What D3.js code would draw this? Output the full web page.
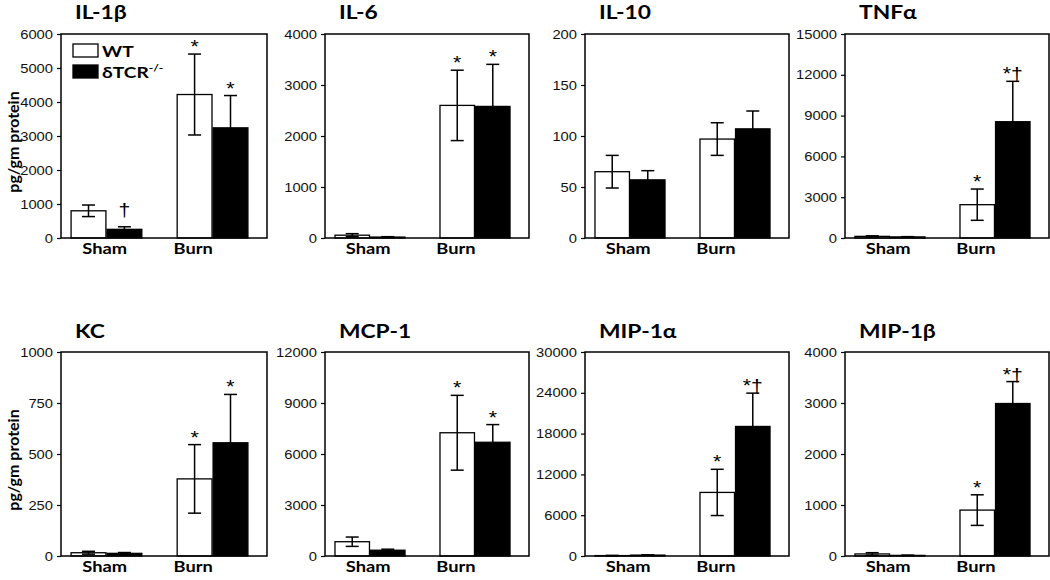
<!DOCTYPE html>
<html>
<head>
<meta charset="utf-8">
<script src="https://cdn.jsdelivr.net/npm/d3@7"></script>
<style>
  html, body { margin: 0; padding: 0; background: #fff; }
  svg { display: block; }
</style>
</head>
<body>
<svg id="chart" width="1050" height="580"></svg>
<script>
// ---------------- data ----------------
const panels = ["IL-1β", "IL-6", "IL-10", "TNFα", "KC", "MCP-1", "MIP-1α", "MIP-1β"];
const groups = ["Sham", "Burn"];
const series = ["WT", "δTCR"];
const yMax = [6000, 4000, 200, 15000, 1000, 12000, 30000, 4000];
const yTicks = [
  [0, 1000, 2000, 3000, 4000, 5000, 6000],
  [0, 1000, 2000, 3000, 4000],
  [0, 50, 100, 150, 200],
  [0, 3000, 6000, 9000, 12000, 15000],
  [0, 250, 500, 750, 1000],
  [0, 3000, 6000, 9000, 12000],
  [0, 6000, 12000, 18000, 24000, 30000],
  [0, 1000, 2000, 3000, 4000]
];
// [Sham, Burn] per panel
const wtMean = [[800, 4220], [55, 2600], [65, 97], [120, 2450], [16, 378], [840, 7250], [60, 9350], [40, 900]];
const wtErr  = [[170, 1190], [30, 690], [16, 16], [40, 1150], [7, 168], [275, 2200], [30, 3400], [25, 300]];
const koMean = [[255, 3240], [18, 2580], [57, 107], [80, 8550], [13, 555], [340, 6690], [130, 19050], [12, 2990]];
const koErr  = [[75, 950], [8, 825], [9, 17.5], [20, 2970], [4, 237], [60, 1040], [40, 4900], [5, 430]];
const wtMark = [["", "*"], ["", "*"], ["", ""], ["", "*"], ["", "*"], ["", "*"], ["", "*"], ["", "*"]];
const koMark = [["†", "*"], ["", "*"], ["", ""], ["", "*†"], ["", "*"], ["", "*"], ["", "*†"], ["", "*†"]];
const yLabel = "pg/gm protein";
const legendLabels = ["WT", "δTCR"];
const legendSup = ["", "-/-"];

// ---------------- layout ----------------
const colLeft = [61, 325, 585, 845];
const colRight = [267, 529, 789, 1049];
const rowTop = [34, 352];
const rowBottom = [238, 556];
const TITLE_FONT = "Lato, 'Open Sans', sans-serif";
const NUM_FONT = "'Liberation Sans', Arial, sans-serif";
const SX = 1.18; // horizontal stretch of reference text

const svg = d3.select("#chart");

function stretchText(sel, x, y, sx) {
  return sel.attr("x", 0).attr("y", 0)
    .attr("transform", `translate(${x},${y}) scale(${sx},1)`);
}

panels.forEach((name, i) => {
  const col = i % 4, row = Math.floor(i / 4);
  const left = colLeft[col], right = colRight[col];
  const top = rowTop[row], bottom = rowBottom[row];
  const W = right - left, H = bottom - top;

  const g = svg.append("g").attr("transform", `translate(${left},${top})`);

  const y = d3.scaleLinear().domain([0, yMax[i]]).range([H, 0]);
  const x0 = d3.scaleBand().domain(groups).range([0, W - 9]).paddingInner(0.333).paddingOuter(0.095);
  const x1 = d3.scaleBand().domain(series).range([0, x0.bandwidth()]).paddingInner(0.03);
  const xLab = d3.scalePoint().domain(groups).range([W * 0.212, W * 0.642]);

  // bars
  const rows = [];
  groups.forEach((grp, gi) => {
    rows.push({ grp, s: "WT", v: wtMean[i][gi], e: wtErr[i][gi], m: wtMark[i][gi] });
    rows.push({ grp, s: "δTCR", v: koMean[i][gi], e: koErr[i][gi], m: koMark[i][gi] });
  });

  g.selectAll("rect.bar").data(rows).join("rect")
    .attr("class", "bar")
    .attr("x", d => x0(d.grp) + x1(d.s))
    .attr("y", d => y(d.v))
    .attr("width", x1.bandwidth())
    .attr("height", d => y(0) - y(d.v))
    .attr("fill", d => d.s === "WT" ? "#fff" : "#000")
    .attr("stroke", "#000")
    .attr("stroke-width", 1.3);

  // error bars
  const cx = d => x0(d.grp) + x1(d.s) + x1.bandwidth() / 2;
  const eb = g.selectAll("g.err").data(rows).join("g").attr("class", "err")
    .attr("stroke", "#000").attr("stroke-width", 1.5);
  eb.append("line")
    .attr("x1", cx).attr("x2", cx)
    .attr("y1", d => y(d.v + d.e)).attr("y2", d => y(Math.max(0, d.v - d.e)));
  eb.append("line")
    .attr("x1", d => cx(d) - 6.5).attr("x2", d => cx(d) + 6.5)
    .attr("y1", d => y(d.v + d.e)).attr("y2", d => y(d.v + d.e));
  eb.append("line")
    .attr("x1", d => cx(d) - 6.5).attr("x2", d => cx(d) + 6.5)
    .attr("y1", d => y(Math.max(0, d.v - d.e))).attr("y2", d => y(Math.max(0, d.v - d.e)));

  // significance marks
  g.selectAll("text.mark").data(rows.filter(d => d.m)).join("text")
    .attr("class", "mark")
    .each(function (d) {
      const gap = d.m === "†" ? -11 : -1;
      stretchText(d3.select(this), cx(d), y(d.v + d.e) + gap, SX);
    })
    .attr("text-anchor", "middle")
    .attr("font-family", NUM_FONT)
    .attr("font-size", 18)
    .attr("fill", "#000")
    .text(d => d.m);

  // frame
  g.append("rect").attr("x", 0).attr("y", 0).attr("width", W).attr("height", H)
    .attr("fill", "none").attr("stroke", "#000").attr("stroke-width", 1.5);

  // y axis
  const ax = g.append("g").call(
    d3.axisLeft(y).tickValues(yTicks[i]).tickSize(4).tickFormat(d3.format("d"))
  );
  ax.select(".domain").remove();
  ax.selectAll(".tick line").attr("stroke", "#000").attr("stroke-width", 1.2);
  ax.selectAll(".tick text")
    .attr("x", -8 / SX)
    .attr("transform", `scale(${SX},1)`)
    .attr("font-family", NUM_FONT)
    .attr("font-size", 12.5)
    .attr("fill", "#111");

  // group labels
  g.selectAll("text.grp").data(groups).join("text")
    .attr("class", "grp")
    .each(function (d) { stretchText(d3.select(this), xLab(d), H + 15.5, 1.18); })
    .attr("text-anchor", "middle")
    .attr("font-family", TITLE_FONT)
    .attr("font-weight", 700)
    .attr("font-size", 15.5)
    .attr("fill", "#000")
    .text(d => d);

  // title
  stretchText(g.append("text"), 14, -15 + (row === 1 ? 1 : 0), 1.2)
    .attr("font-family", TITLE_FONT)
    .attr("font-weight", 700)
    .attr("font-size", 19)
    .attr("fill", "#000")
    .text(name);

  // y label (first column)
  if (col === 0) {
    svg.append("text")
      .attr("transform", `translate(${left - 42},${top + H / 2 + 6}) rotate(-90)`)
      .attr("text-anchor", "middle")
      .attr("font-family", TITLE_FONT)
      .attr("font-weight", 700)
      .attr("font-size", 16)
      .attr("fill", "#000")
      .text(yLabel);
  }

  // legend (first panel)
  if (i === 0) {
    const lg = g.append("g").attr("transform", "translate(12,10)");
    legendLabels.forEach((lab, li) => {
      lg.append("rect").attr("x", 0).attr("y", li * 21).attr("width", 25).attr("height", 13)
        .attr("fill", li === 0 ? "#fff" : "#000").attr("stroke", "#000").attr("stroke-width", 1.3);
      const t = stretchText(lg.append("text"), 29, li * 21 + 13, 1.2)
        .attr("font-family", TITLE_FONT).attr("font-weight", 700).attr("font-size", 16).attr("fill", "#000");
      t.append("tspan").text(lab);
      if (legendSup[li]) {
        t.append("tspan").attr("font-size", 10).attr("dy", -7).text(legendSup[li]);
      }
    });
  }
});
</script>
</body>
</html>
